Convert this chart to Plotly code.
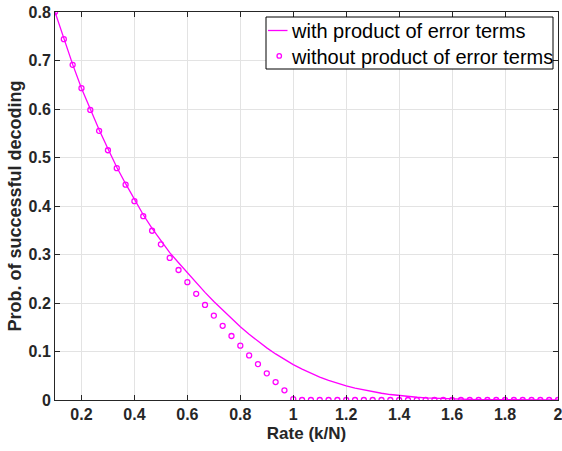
import plotly.graph_objects as go

rate = [0.1 + k / 30 for k in range(58)]

with_product = [
    0.800, 0.745, 0.692, 0.643, 0.599, 0.557, 0.518, 0.480, 0.446, 0.413,
    0.382, 0.354, 0.328, 0.304, 0.283, 0.262, 0.2415, 0.222, 0.203, 0.185,
    0.1675, 0.151, 0.1355, 0.121, 0.1075, 0.095, 0.0835, 0.073, 0.0635, 0.055,
    0.0473, 0.0403, 0.0343, 0.029, 0.0244, 0.0204, 0.0169, 0.0139, 0.0113, 0.009,
    0.0072, 0.0057, 0.0045, 0.0035, 0.0027, 0.002, 0.0015, 0.0011, 0.0008, 0.0006,
    0.0004, 0.0003, 0.0002, 0.00015, 0.0001, 0.00007, 0.00005, 0.00003,
]

without_product = [
    0.800, 0.744, 0.691, 0.643, 0.598, 0.555, 0.515, 0.478, 0.444, 0.410,
    0.379, 0.349, 0.321, 0.293, 0.268, 0.243, 0.219, 0.196, 0.174, 0.153,
    0.132, 0.112, 0.092, 0.074, 0.055, 0.037, 0.020, 0.002,
] + [0.0] * 30

series_names = ["with product of error terms", "without product of error terms"]

x_ticks = [0.2, 0.4, 0.6, 0.8, 1.0, 1.2, 1.4, 1.6, 1.8, 2.0]
x_tick_labels = ["0.2", "0.4", "0.6", "0.8", "1", "1.2", "1.4", "1.6", "1.8", "2"]
y_ticks = [0, 0.1, 0.2, 0.3, 0.4, 0.5, 0.6, 0.7, 0.8]
y_tick_labels = ["0", "0.1", "0.2", "0.3", "0.4", "0.5", "0.6", "0.7", "0.8"]

MAG = "#ff00ff"
AX = "#262626"
GRID = "#e3e3e3"
FONT = "Liberation Sans"

W, H = 562, 451
ML, MR, MT, MB = 55, 4, 12, 51
PW, PH = W - ML - MR, H - MT - MB


def px_x(px):
    return (px - ML) / PW


def px_y(py):
    return (H - MB - py) / PH


fig = go.Figure()
fig.add_trace(go.Scatter(
    x=rate, y=with_product, mode="lines", name=series_names[0],
    line=dict(color=MAG, width=1.3), showlegend=False,
))
fig.add_trace(go.Scatter(
    x=rate, y=without_product, mode="markers", name=series_names[1],
    marker=dict(symbol="circle-open", size=5, color=MAG, line=dict(color=MAG, width=1.3)),
    showlegend=False,
))

# custom legend (box, samples, labels)
shapes = [
    dict(type="rect", xref="paper", yref="paper",
         x0=px_x(266), x1=px_x(553), y0=px_y(69), y1=px_y(17),
         line=dict(color="#000000", width=1), fillcolor="white", layer="above"),
    dict(type="line", xref="paper", yref="paper",
         x0=px_x(268), x1=px_x(287.5), y0=px_y(30.5), y1=px_y(30.5),
         line=dict(color=MAG, width=1.3), layer="above"),
    dict(type="circle", xref="paper", yref="paper",
         x0=px_x(277), x1=px_x(281.5), y0=px_y(58.2), y1=px_y(53.7),
         line=dict(color=MAG, width=1.3), layer="above"),
]
annotations = [
    dict(text=series_names[0], xref="paper", yref="paper", x=px_x(289), y=px_y(31),
         xanchor="left", yanchor="middle", showarrow=False,
         font=dict(family=FONT, size=20, color="#000000")),
    dict(text=series_names[1], xref="paper", yref="paper", x=px_x(289), y=px_y(56.5),
         xanchor="left", yanchor="middle", showarrow=False,
         font=dict(family=FONT, size=20, color="#000000")),
]

axis_common = dict(
    showline=True, linecolor=AX, linewidth=1, mirror="allticks",
    ticks="inside", ticklen=5, tickwidth=1, tickcolor=AX,
    showgrid=True, gridcolor=GRID, gridwidth=1, zeroline=False,
    tickfont=dict(family=FONT, size=16, color=AX, weight="bold"),
    ticklabeloverflow="allow", automargin=False,
)

fig.update_layout(
    width=W, height=H,
    margin=dict(l=ML, r=MR, t=MT, b=MB),
    paper_bgcolor="white", plot_bgcolor="white",
    showlegend=False,
    shapes=shapes, annotations=annotations,
    xaxis=dict(
        range=[0.1, 2.0], tickvals=x_ticks, ticktext=x_tick_labels,
        title=dict(text="Rate (k/N)", font=dict(family=FONT, size=17, color=AX, weight="bold"), standoff=4),
        **axis_common,
    ),
    yaxis=dict(
        range=[0, 0.8], tickvals=y_ticks, ticktext=y_tick_labels,
        title=dict(text="Prob. of successful decoding", font=dict(family=FONT, size=18, color=AX, weight="bold"), standoff=2),
        **axis_common,
    ),
)

fig.write_html("out.html")
